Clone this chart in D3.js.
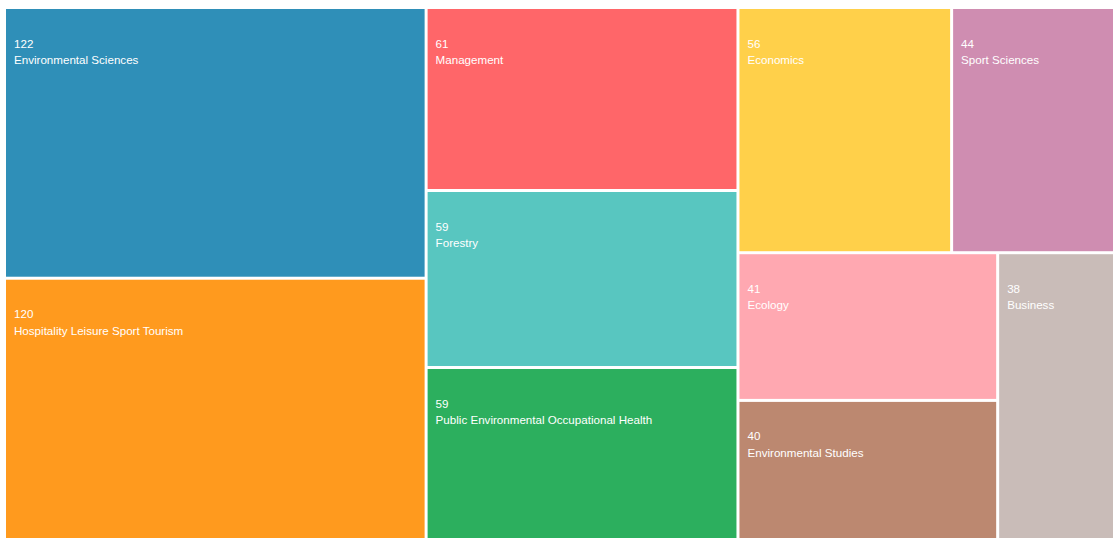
<!DOCTYPE html>
<html>
<head>
<meta charset="utf-8">
<script src="https://cdn.jsdelivr.net/npm/d3@7"></script>
<style>
  body { margin: 0; background: #fff; overflow: hidden; }
  text { font-family: "Liberation Sans", Arial, sans-serif; font-size: 11.6px; fill: #fff; }
</style>
</head>
<body>
<div id="container"></div>
<script>
const categories = [
  "Environmental Sciences",
  "Hospitality Leisure Sport Tourism",
  "Management",
  "Forestry",
  "Public Environmental Occupational Health",
  "Economics",
  "Sport Sciences",
  "Ecology",
  "Environmental Studies",
  "Business"
];
const counts = [122, 120, 61, 59, 59, 56, 44, 41, 40, 38];
const colors = [
  "#2f8fb8", "#ff9a1e", "#ff6669", "#58c6c0", "#2caf5e",
  "#ffd04a", "#cf8db1", "#ffa8b1", "#bc8870", "#c9bcb8"
];

window.onload = () => {
  const margin = {top: 9, left: 6};
  const width = 1112;
  const height = 534;

  const svg = d3.select("#container")
    .append("svg")
    .attr("width", 1113)
    .attr("height", 538)
    .append("g")
    .attr("transform", "translate(" + margin.left + "," + margin.top + ")");

  const data = {
    name: "root",
    children: categories.map((c, i) => ({name: c, value: counts[i], color: colors[i]}))
  };

  const root = d3.hierarchy(data)
    .sum(d => d.value || 0)
    .sort((a, b) => b.value - a.value);

  d3.treemap()
    .tile(d3.treemapSquarify)
    .size([width, height])
    .paddingInner(3)(root);

  const cell = svg.selectAll(".cell")
    .data(root.leaves())
    .enter()
    .append("g")
    .attr("class", "cell")
    .attr("transform", d => "translate(" + d.x0 + "," + d.y0 + ")");

  cell.append("rect")
    .attr("width", d => d.x1 - d.x0)
    .attr("height", d => d.y1 - d.y0)
    .attr("fill", d => d.data.color);

  cell.append("text")
    .attr("x", 8)
    .attr("y", 38.5)
    .text(d => d.data.value);

  cell.append("text")
    .attr("x", 8)
    .attr("y", 55)
    .text(d => d.data.name);
};
</script>
</body>
</html>
